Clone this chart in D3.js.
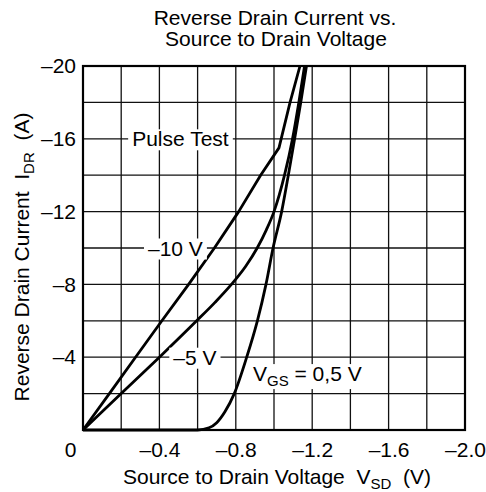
<!DOCTYPE html>
<html>
<head>
<meta charset="utf-8">
<title>Reverse Drain Current vs. Source to Drain Voltage</title>
<style>
  body { margin: 0; background: #fff; }
  text { font-family: "Liberation Sans", Arial, Helvetica, sans-serif; fill: #000; }
</style>
</head>
<body>
<script src="https://cdn.jsdelivr.net/npm/d3@7"></script>
<script>

var width = 486,
    height = 492;

// axis ticks
var xTicks = [0, -0.4, -0.8, -1.2, -1.6, -2.0];
var yTicks = [-20, -16, -12, -8, -4];

// curves: [V_SD (V), I_DR (A)]
var vgs10 = [[0, 0], [-0.138, -2], [-0.275, -4], [-0.413, -6], [-0.553, -8], [-0.688, -10],
             [-0.815, -12], [-0.93, -14], [-1.026, -15.5], [-1.084, -18], [-1.136, -20]];
var vgs5 = [[0, 0], [-0.2, -2], [-0.4, -4], [-0.595, -6], [-0.69, -7], [-0.777, -8],
            [-0.852, -9], [-0.912, -10], [-0.96, -11], [-1.0, -12], [-1.055, -14],
            [-1.097, -16], [-1.13, -18], [-1.16, -20]];
var vgs05 = [[0, 0], [-0.6, 0], [-0.66, -0.12], [-0.7, -0.4], [-0.743, -1],
             [-0.792, -2], [-0.857, -4], [-0.913, -6], [-0.958, -8], [-0.995, -10],
             [-1.04, -12], [-1.075, -14], [-1.108, -16], [-1.14, -18], [-1.17, -20]];

var curveLabels = [
    { text: "Pulse Test", v: -0.51, i: -16 },
    { text: "\u201310 V", v: -0.484, i: -10 },
    { text: "\u20135 V", v: -0.586, i: -4 }
];

var x = d3.scaleLinear().domain([0, -2]).range([83, 465]);
var y = d3.scaleLinear().domain([0, -20]).range([430, 66]);

var svg = d3.select("body").append("svg")
    .attr("width", width)
    .attr("height", height);

// grid
var g = svg.append("g");
g.selectAll(".vline")
    .data(d3.ticks(0, -2, 10))
    .enter().append("line")
    .attr("x1", function (d) { return x(d); })
    .attr("x2", function (d) { return x(d); })
    .attr("y1", y(0)).attr("y2", y(-20))
    .attr("stroke", "#111").attr("stroke-width", 1.3);
g.selectAll(".hline")
    .data(d3.ticks(0, -20, 10))
    .enter().append("line")
    .attr("y1", function (d) { return y(d); })
    .attr("y2", function (d) { return y(d); })
    .attr("x1", x(0)).attr("x2", x(-2))
    .attr("stroke", "#111").attr("stroke-width", 1.3);

// curves
var line = d3.line()
    .x(function (d) { return x(d[0]); })
    .y(function (d) { return y(d[1]); });
var smooth = d3.line()
    .curve(d3.curveMonotoneX)
    .x(function (d) { return x(d[0]); })
    .y(function (d) { return y(d[1]); });

[[vgs10, line], [vgs5, smooth], [vgs05, smooth]].forEach(function (c) {
    svg.append("path")
        .datum(c[0])
        .attr("d", c[1])
        .attr("fill", "none")
        .attr("stroke", "#000")
        .attr("stroke-width", 2.8)
        .attr("stroke-linejoin", "round");
});

// frame
svg.append("rect")
    .attr("x", x(0)).attr("y", y(-20))
    .attr("width", x(-2) - x(0)).attr("height", y(0) - y(-20))
    .attr("fill", "none").attr("stroke", "#000").attr("stroke-width", 2.2);

// labels on curves with white boxes
function boxed(textSel) {
    var bb = textSel.node().getBBox();
    svg.insert("rect", function () { return textSel.node(); })
        .attr("x", bb.x - 4).attr("y", bb.y + 2)
        .attr("width", bb.width + 8).attr("height", bb.height - 2)
        .attr("fill", "#fff");
}

curveLabels.forEach(function (l) {
    var t = svg.append("text")
        .attr("x", x(l.v))
        .attr("y", y(l.i) + 7.5)
        .attr("text-anchor", "middle")
        .style("font-size", "21px")
        .text(l.text);
    boxed(t);
});

var vgsLabel = svg.append("text")
    .attr("x", x(-0.89))
    .attr("y", y(-3.1) + 7.5)
    .style("font-size", "21px");
vgsLabel.append("tspan").text("V");
vgsLabel.append("tspan").attr("dy", 5).style("font-size", "15px").text("GS");
vgsLabel.append("tspan").attr("dy", -5).text(" = 0,5 V");
boxed(vgsLabel);

// axes tick labels
var xAxis = d3.axisBottom(x)
    .tickValues(xTicks)
    .tickSize(0)
    .tickPadding(12)
    .tickFormat(function (d) { return d === 0 ? "0" : "\u2013" + d3.format(".1f")(-d); });
var xa = svg.append("g")
    .attr("transform", "translate(0," + y(0) + ")")
    .call(xAxis);
xa.select(".domain").remove();
xa.selectAll("text")
    .style("font-size", "21px")
    .attr("font-family", null)
    .attr("dx", function (d) { return d === 0 ? -13 : 0; });

var yAxis = d3.axisLeft(y)
    .tickValues(yTicks)
    .tickSize(0)
    .tickPadding(7)
    .tickFormat(function (d) { return "\u2013" + (-d); });
var ya = svg.append("g")
    .attr("transform", "translate(" + x(0) + ",0)")
    .call(yAxis);
ya.select(".domain").remove();
ya.selectAll("text")
    .style("font-size", "21px")
    .attr("font-family", null);

// titles
svg.append("text")
    .attr("x", 275).attr("y", 25)
    .attr("text-anchor", "middle")
    .style("font-size", "21px")
    .text("Reverse Drain Current vs.");
svg.append("text")
    .attr("x", 276).attr("y", 46)
    .attr("text-anchor", "middle")
    .style("font-size", "21px")
    .text("Source to Drain Voltage");

var xt = svg.append("text")
    .attr("x", 277).attr("y", 484)
    .attr("text-anchor", "middle")
    .style("font-size", "21px");
xt.append("tspan").text("Source to Drain Voltage\u00a0\u00a0V");
xt.append("tspan").attr("dy", 5).style("font-size", "15px").text("SD");
xt.append("tspan").attr("dy", -5).text("\u00a0\u00a0(V)");

var yt = svg.append("text")
    .attr("transform", "translate(29,257) rotate(-90)")
    .attr("text-anchor", "middle")
    .style("font-size", "21px");
yt.append("tspan").text("Reverse Drain Current\u00a0\u00a0I");
yt.append("tspan").attr("dy", 5).style("font-size", "15px").text("DR");
yt.append("tspan").attr("dy", -5).text("\u00a0\u00a0(A)");

</script>
</body>
</html>
